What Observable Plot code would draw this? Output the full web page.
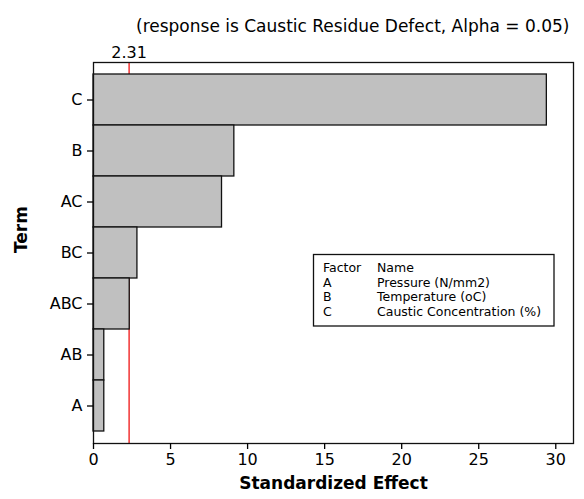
<!DOCTYPE html>
<html><head><meta charset="utf-8">
<script src="https://cdn.jsdelivr.net/npm/d3@7"></script>
<script src="https://cdn.jsdelivr.net/npm/@observablehq/plot@0.6"></script>
<style>
body{margin:0;background:#fff}
#chart svg{font-family:"DejaVu Sans",sans-serif}
</style>
</head><body><div id="chart"></div>
<script>
const terms = ["C","B","AC","BC","ABC","AB","A"];
const effects = [29.42, 9.14, 8.34, 2.85, 2.35, 0.70, 0.70];
const xTicks = [0,5,10,15,20,25,30];
const critical = 2.31;
const factorCodes = ["A","B","C"];
const factorNames = ["Pressure (N/mm2)","Temperature (oC)","Caustic Concentration (%)"];
const titleText = "(response is Caustic Residue Defect, Alpha = 0.05)";
const xLabel = "Standardized Effect";
const yLabel = "Term";

const data = terms.map((t,i)=>({term:t, effect:effects[i]}));
const FONT = "DejaVu Sans, sans-serif";

const plot = Plot.plot({
  width:584, height:499,
  marginLeft:93, marginRight:11, marginTop:62, marginBottom:56,
  style:{fontSize:"16px", fontFamily:FONT, background:"white", color:"black", overflow:"visible"},
  x:{domain:[0,31.15]},
  y:{domain:terms, paddingInner:0, paddingOuter:0.235},
  marks:[
    Plot.ruleX([critical],{stroke:"#ee0000", strokeWidth:1.2}),
    Plot.barX(data,{x:"effect", y:"term", fill:"#c0c0c0", stroke:"#111", strokeWidth:1.3}),
    Plot.frame({stroke:"#111", strokeWidth:1.3}),
    Plot.text([critical],{x:d=>d, frameAnchor:"top", dy:-16, text:d=>String(d), fontSize:16}),
    Plot.axisX({ticks:xTicks, tickSize:6, tickPadding:4, label:null, fontSize:16, strokeWidth:1.3}),
    Plot.axisY({tickSize:6, tickPadding:5, label:null, fontSize:16, strokeWidth:1.3}),
    Plot.text([titleText],{frameAnchor:"top-right", dx:-4, dy:-43, textAnchor:"end", fontSize:17}),
    Plot.text([xLabel],{frameAnchor:"bottom", dy:45, fontWeight:"bold", fontSize:17}),
    Plot.text([yLabel],{frameAnchor:"left", dx:-72, rotate:-90, fontWeight:"bold", fontSize:17})
  ]
});
document.getElementById("chart").appendChild(plot);

// legend box
const svg = d3.select(plot);
const g = svg.append("g").attr("font-family", FONT).attr("font-size", 12.5).attr("text-anchor","start");
g.append("rect").attr("x",313.5).attr("y",254.5).attr("width",240.5).attr("height",71.5)
  .attr("fill","white").attr("stroke","#111").attr("stroke-width",1.3);
const rows = [["Factor","Name"]].concat(factorCodes.map((c,i)=>[c,factorNames[i]]));
rows.forEach((r,i)=>{
  const y = 268 + i*14.4;
  g.append("text").attr("x",323).attr("y",y).attr("dy","0.35em").attr("text-anchor","start").text(r[0]);
  g.append("text").attr("x",377).attr("y",y).attr("dy","0.35em").attr("text-anchor","start").text(r[1]);
});
</script>
</body></html>
